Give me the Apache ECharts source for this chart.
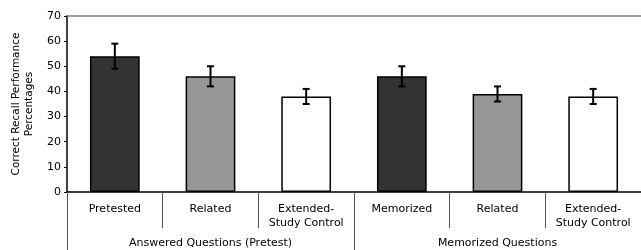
<!DOCTYPE html>
<html>
<head>
<meta charset="utf-8">
<script src="https://cdn.jsdelivr.net/npm/echarts@6/dist/echarts.min.js"></script>
<style>
  html, body { margin: 0; padding: 0; background: #fff; }
  #main { width: 641px; height: 250px; }
</style>
</head>
<body>
<div id="main"></div>
<script>
// condition labels (lower axis row) and the two question groups
var categories = ['Pretested', 'Related', 'Extended-\nStudy Control', 'Memorized', 'Related', 'Extended-\nStudy Control'];
var groups = ['Answered Questions (Pretest)', 'Memorized Questions'];
// mean recall percentages + error bar ends
var means = [54, 46, 38, 46, 39, 38];
var errLow = [49, 42, 35, 42, 36, 35];
var errHigh = [59, 50, 41, 50, 42, 41];
var barColors = ['#333333', '#969696', '#ffffff', '#333333', '#969696', '#ffffff'];

var chart = echarts.init(document.getElementById('main'), null, { renderer: 'canvas' });
var font = 'DejaVu Sans';

var option = {
  animation: false,
  textStyle: { fontFamily: font },
  grid: { left: 67, right: -3, top: 16, bottom: 58 },
  xAxis: [
    {
      type: 'category',
      data: categories,
      position: 'bottom',
      axisLine: { lineStyle: { color: '#000', width: 1.5 } },
      axisTick: { show: true, interval: 0, length: 36, lineStyle: { color: '#555', width: 1 } },
      axisLabel: { interval: 0, margin: 10, fontSize: 11, lineHeight: 14, color: '#000', fontFamily: font }
    },
    {
      type: 'category',
      data: groups,
      position: 'bottom',
      axisLine: { show: false },
      axisTick: { show: true, interval: 0, length: 58, lineStyle: { color: '#555', width: 1 } },
      axisLabel: { interval: 0, margin: 46, fontSize: 11, color: '#000', fontFamily: font }
    },
    {
      // top border line at 70
      type: 'category',
      data: groups,
      position: 'top',
      axisLine: { show: true, lineStyle: { color: '#808080', width: 1.5 } },
      axisTick: { show: false },
      axisLabel: { show: false }
    }
  ],
  yAxis: {
    type: 'value',
    min: 0,
    max: 70,
    interval: 10,
    name: 'Correct Recall Performance\nPercentages',
    nameLocation: 'middle',
    nameGap: 29,
    nameTextStyle: { fontSize: 10.5, lineHeight: 13, color: '#000', fontFamily: font },
    axisLine: { show: true, lineStyle: { color: '#000', width: 1.5 } },
    axisTick: { show: true, length: 3, lineStyle: { color: '#000' } },
    axisLabel: { fontSize: 11, margin: 6, color: '#000', fontFamily: font },
    splitLine: { show: false }
  },
  series: [
    {
      type: 'bar',
      xAxisIndex: 0,
      barWidth: '52%',
      data: means.map(function (v, i) {
        return { value: v, itemStyle: { color: barColors[i] } };
      }),
      itemStyle: { borderColor: '#000', borderWidth: 1.5 }
    },
    {
      type: 'custom',
      xAxisIndex: 0,
      z: 5,
      data: errLow.map(function (lo, i) { return [i, lo, errHigh[i]]; }),
      renderItem: function (params, api) {
        var lo = api.coord([api.value(0), api.value(1)]);
        var hi = api.coord([api.value(0), api.value(2)]);
        var cap = 3.5;
        var style = { stroke: '#000', lineWidth: 2 };
        return {
          type: 'group',
          children: [
            { type: 'line', shape: { x1: hi[0], y1: hi[1], x2: lo[0], y2: lo[1] }, style: style },
            { type: 'line', shape: { x1: hi[0] - cap, y1: hi[1], x2: hi[0] + cap, y2: hi[1] }, style: style },
            { type: 'line', shape: { x1: lo[0] - cap, y1: lo[1], x2: lo[0] + cap, y2: lo[1] }, style: style }
          ]
        };
      }
    }
  ]
};

chart.setOption(option);
</script>
</body>
</html>
